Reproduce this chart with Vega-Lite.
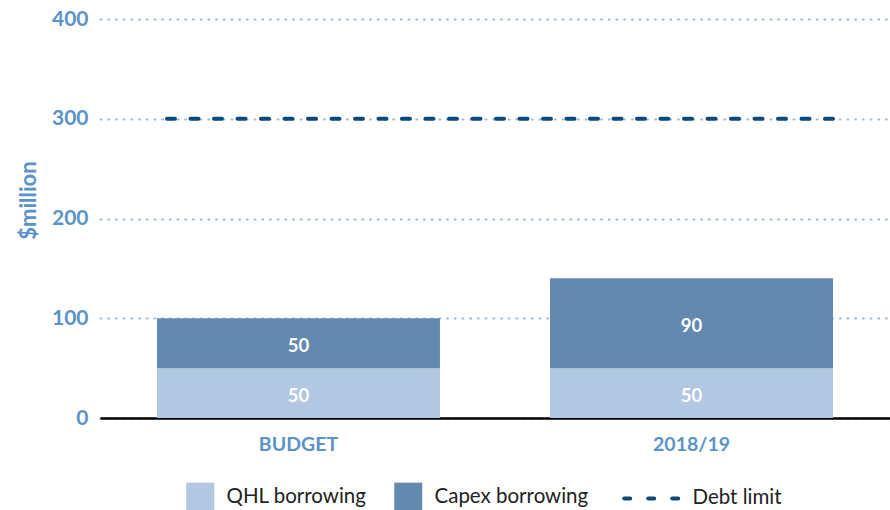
{
  "$schema": "https://vega.github.io/schema/vega-lite/v6.json",
  "width": 790,
  "height": 399,
  "autosize": {"type": "none"},
  "padding": {"left": 100, "top": 19, "right": 0, "bottom": 92},
  "background": "white",
  "config": {"view": {"stroke": null}, "font": "Lato"},
  "datasets": {
    "bars": [
      {"category": "BUDGET", "series": "QHL borrowing", "value": 50},
      {"category": "BUDGET", "series": "Capex borrowing", "value": 50},
      {"category": "2018/19", "series": "QHL borrowing", "value": 50},
      {"category": "2018/19", "series": "Capex borrowing", "value": 90}
    ],
    "limit": [
      {"series": "Debt limit", "value": 300}
    ]
  },
  "layer": [
    {
      "data": {"name": "bars"},
      "mark": {"type": "bar"},
      "encoding": {
        "x": {
          "field": "category", "type": "nominal", "sort": ["BUDGET", "2018/19"],
          "scale": {"paddingInner": 0.28, "paddingOuter": 0.145},
          "axis": {
            "title": null, "labelAngle": 0, "labelFontSize": 19.5, "labelFontWeight": "bold",
            "labelColor": "#5b93c9", "labelPadding": 17, "ticks": false,
            "domainColor": "#000000", "domainWidth": 2.5, "grid": false
          }
        },
        "y": {
          "field": "value", "type": "quantitative", "stack": "zero",
          "scale": {"domain": [0, 400]},
          "axis": {
            "title": "$million", "titleFontSize": 22, "titleFontWeight": "bold", "titleColor": "#5b93c9",
            "titleX": -72, "titleY": 181, "titleAngle": -90, "titleAlign": "center", "titleBaseline": "middle",
            "values": [0, 100, 200, 300, 400], "ticks": false, "domain": false,
            "labelPadding": 12, "labelFontSize": 21, "labelFontWeight": "bold", "labelColor": "#5b93c9",
            "gridColor": "#9dbadd", "gridDash": [1, 6.7], "gridWidth": 2, "gridCap": "round"
          }
        },
        "color": {
          "field": "series", "type": "nominal",
          "scale": {"domain": ["QHL borrowing", "Capex borrowing", "Debt limit"], "range": ["#b2c7e2", "#6489b1", "#0c4a7c"]},
          "legend": {
            "orient": "none", "legendX": 90, "legendY": 467, "direction": "horizontal", "title": null,
            "padding": 0, "symbolSize": 784, "symbolType": "square", "labelFontSize": 20.5, "labelColor": "#222222",
            "labelOffset": 16, "columnPadding": 27, "labelFont": "Lato",
            "encode": {
              "symbols": {"update": {
                "shape": {"signal": "datum.label === 'Debt limit' ? 'M-0.43,0H3.43' : 'square'"},
                "fill": {"signal": "datum.label === 'Debt limit' ? 'transparent' : (datum.label === 'QHL borrowing' ? '#b2c7e2' : '#6489b1')"},
                "stroke": {"signal": "datum.label === 'Debt limit' ? '#0c4a7c' : 'transparent'"},
                "strokeWidth": {"signal": "datum.label === 'Debt limit' ? 4 : 0"},
                "strokeDash": {"signal": "datum.label === 'Debt limit' ? [6, 18] : [1, 0]"},
                "strokeCap": {"value": "round"},
                "opacity": {"value": 1}
              }},
              "labels": {"update": {"dx": {"signal": "datum.label === 'Debt limit' ? 36 : 0"}}}
            }
          }
        },
        "order": {"field": "series", "sort": "descending"}
      }
    },
    {
      "data": {"name": "bars"},
      "mark": {"type": "text", "color": "white", "fontWeight": "bold", "fontSize": 18.5, "baseline": "middle", "dy": 3},
      "encoding": {
        "x": {"field": "category", "type": "nominal", "sort": ["BUDGET", "2018/19"]},
        "y": {"field": "value", "type": "quantitative", "stack": "zero", "bandPosition": 0.5},
        "detail": {"field": "series"},
        "order": {"field": "series", "sort": "descending"},
        "text": {"field": "value", "type": "quantitative"}
      }
    },
    {
      "data": {"name": "limit"},
      "mark": {"type": "rule", "strokeWidth": 4, "strokeDash": [8, 15.5], "strokeCap": "round", "strokeDashOffset": 13.5},
      "encoding": {
        "x": {"datum": "BUDGET", "bandPosition": 0},
        "x2": {"datum": "2018/19", "bandPosition": 1},
        "y": {"field": "value", "type": "quantitative"},
        "color": {"field": "series", "type": "nominal"}
      }
    }
  ]
}
